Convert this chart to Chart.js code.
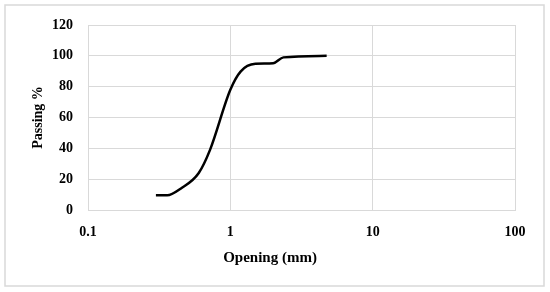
<!DOCTYPE html>
<html>
<head>
<meta charset="utf-8">
<script src="https://cdn.jsdelivr.net/npm/chart.js@4.4.1/dist/chart.umd.min.js"></script>
<style>
  body { margin: 0; background: #fff; }
</style>
</head>
<body>
<canvas id="grading-chart" width="550" height="292"></canvas>
<script>
// sieve opening (mm) and % passing
const opening = [0.3, 0.36, 0.45, 0.6, 0.72, 1.0, 1.18, 1.5, 2.0, 2.36, 4.75]
const passing = [9.5, 9.5, 14, 24, 39, 78, 89.8, 94.8, 95.2, 99, 100]

const xTicks = [0.1, 1, 10, 100]
const yMin = 0, yMax = 120, yStep = 20

const xTitle = 'Opening (mm)'
const yTitle = 'Passing %'

const gridColor = '#d9d9d9'
const labelFont = { family: 'Liberation Serif', size: 14, weight: 'bold' }

// light frame around the whole chart
const frame = {
  id: 'frame',
  beforeDraw(chart) {
    const ctx = chart.ctx
    ctx.save()
    ctx.fillStyle = '#fff'
    ctx.fillRect(0, 0, chart.width, chart.height)
    ctx.strokeStyle = gridColor
    ctx.lineWidth = 1.5
    ctx.strokeRect(5, 5, 539, 281)
    ctx.restore()
  }
}

// the x title sits centred on the whole frame, not on the plot area
const xTitlePlugin = {
  id: 'xTitle',
  afterDraw(chart) {
    const ctx = chart.ctx
    ctx.save()
    ctx.font = 'bold 15px "Liberation Serif"'
    ctx.fillStyle = '#000'
    ctx.textAlign = 'center'
    ctx.textBaseline = 'middle'
    ctx.fillText(xTitle, 270, 258)
    ctx.restore()
  }
}

let chart = new Chart(document.getElementById("grading-chart"), {
  type: 'line',
  data: {
    datasets: [{
      data: opening.map((x, i) => ({ x: x, y: passing[i] })),
      borderColor: '#000',
      borderWidth: 2.5,
      pointRadius: 0,
      cubicInterpolationMode: 'monotone',
      fill: false
    }]
  },
  options: {
    responsive: false,
    animation: false,
    layout: { padding: { left: 0, top: 25, right: 35, bottom: 0 } },
    plugins: { legend: { display: false }, tooltip: { enabled: false } },
    scales: {
      x: {
        type: 'logarithmic',
        min: 0.1,
        max: 100,
        afterBuildTicks: axis => { axis.ticks = xTicks.map(v => ({ value: v })) },
        afterFit: axis => { axis.height = 82 },
        grid: { color: gridColor, drawTicks: false },
        border: { color: gridColor },
        ticks: {
          color: '#000',
          font: labelFont,
          padding: 14,
          maxRotation: 0,
          autoSkip: false,
          callback: v => String(v)
        },
        title: { display: false }
      },
      y: {
        min: yMin,
        max: yMax,
        afterFit: axis => { axis.width = 88 },
        grid: { color: gridColor, drawTicks: false },
        border: { color: gridColor },
        ticks: {
          stepSize: yStep,
          color: '#000',
          font: labelFont,
          padding: 15
        },
        title: {
          display: true,
          text: yTitle,
          color: '#000',
          font: labelFont,
          padding: { top: 30, bottom: 0 }
        }
      }
    }
  },
  plugins: [frame, xTitlePlugin]
})
</script>
</body>
</html>
